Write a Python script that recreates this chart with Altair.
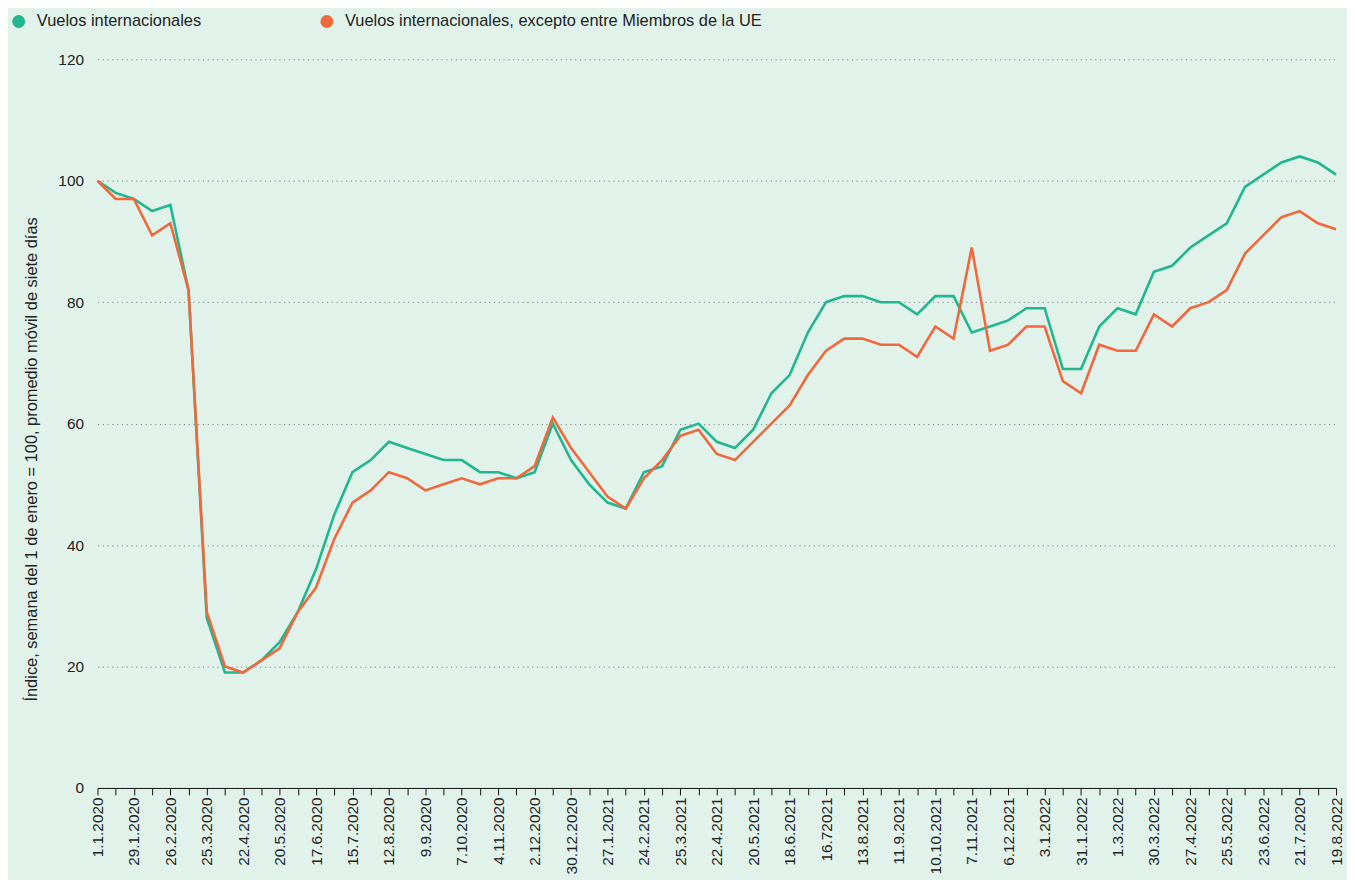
import altair as alt
import pandas as pd

series_names = ["Vuelos internacionales", "Vuelos internacionales, excepto entre Miembros de la UE"]
series_colors = ["#20B68F", "#F0683C"]

tick_labels = [
    "1.1.2020", "29.1.2020", "26.2.2020", "25.3.2020", "22.4.2020", "20.5.2020",
    "17.6.2020", "15.7.2020", "12.8.2020", "9.9.2020", "7.10.2020", "4.11.2020",
    "2.12.2020", "30.12.2020", "27.1.2021", "24.2.2021", "25.3.2021", "22.4.2021",
    "20.5.2021", "18.6.2021", "16.72021", "13.8.2021", "11.9.2021", "10.10.2021",
    "7.11.2021", "6.12.2021", "3.1.2022", "31.1.2022", "1.3.2022", "30.3.2022",
    "27.4.2022", "25.5.2022", "23.6.2022", "21.7.2020", "19.8.2022",
]

intl = [
    100, 98, 97, 95, 96, 82, 28, 19, 19, 21, 24, 29, 36, 45, 52, 54, 57, 56, 55, 54,
    54, 52, 52, 51, 52, 60, 54, 50, 47, 46, 52, 53, 59, 60, 57, 56, 59, 65, 68, 75,
    80, 81, 81, 80, 80, 78, 81, 81, 75, 76, 77, 79, 79, 69, 69, 76, 79, 78, 85, 86,
    89, 91, 93, 99, 101, 103, 104, 103, 101,
]
intl_ex_eu = [
    100, 97, 97, 91, 93, 82, 29, 20, 19, 21, 23, 29, 33, 41, 47, 49, 52, 51, 49, 50,
    51, 50, 51, 51, 53, 61, 56, 52, 48, 46, 51, 54, 58, 59, 55, 54, 57, 60, 63, 68,
    72, 74, 74, 73, 73, 71, 76, 74, 89, 72, 73, 76, 76, 67, 65, 73, 72, 72, 78, 76,
    79, 80, 82, 88, 91, 94, 95, 93, 92,
]

rows = []
for i, v in enumerate(intl):
    rows.append({"i": i, "serie": series_names[0], "valor": v})
for i, v in enumerate(intl_ex_eu):
    rows.append({"i": i, "serie": series_names[1], "valor": v})
df = pd.DataFrame(rows)

n = len(intl)
label_array = "[" + ",".join("'" + s + "'" for s in tick_labels) + "]"
label_expr = f"datum.value % 2 == 0 ? {label_array}[datum.value / 2] : ''"

x_enc = alt.X(
    "i:Q",
    scale=alt.Scale(domain=[0, n - 1], nice=False, zero=False),
    axis=alt.Axis(
        values=list(range(n)),
        labelExpr=label_expr,
        title=None,
        grid=False,
        labelAngle=270,
        labelFontSize=15.5,
        labelColor="#222222",
        labelOverlap=False,
        labelFlush=False,
        labelPadding=2,
        tickSize=7,
        tickColor="#111111",
        tickWidth=1,
        domainColor="#111111",
        domainWidth=1,
    ),
)
y_enc = alt.Y(
    "valor:Q",
    scale=alt.Scale(domain=[0, 120], nice=False),
    axis=alt.Axis(
        values=[0, 20, 40, 60, 80, 100, 120],
        title="Índice, semana del 1 de enero = 100, promedio móvil de siete días",
        titleFontSize=16.5,
        titleFontWeight="normal",
        titleColor="#222222",
        titleX=-66,
        titleY=402,
        titleAlign="center",
        titleBaseline="middle",
        titleAngle=270,
        labelFontSize=15.5,
        labelColor="#222222",
        labelPadding=14,
        ticks=False,
        domain=False,
        grid=True,
        gridColor="#7d7d7d",
        gridDash=[1.2, 3.6],
        gridWidth=1,
    ),
)
color_scale = alt.Scale(domain=series_names, range=series_colors)

lines = alt.Chart(df).mark_line(strokeWidth=2.6).encode(
    x=x_enc,
    y=y_enc,
    color=alt.Color(
        "serie:N",
        scale=color_scale,
        legend=alt.Legend(
            orient="none",
            legendX=-87.5,
            legendY=-46.5,
            direction="horizontal",
            title=None,
            symbolType="circle",
            symbolSize=42,
            symbolStrokeWidth=6.5,
            labelFontSize=16.5,
            labelColor="#222222",
            labelLimit=1000,
            labelOffset=10,
            columnPadding=110,
            padding=0,
        ),
    ),
)

chart = (
    lines
    .properties(
        width=1246,
        height=733,
        padding={"left": 90, "top": 49, "right": 11, "bottom": 90},
        autosize=alt.AutoSizeParams(type="none"),
        background="#E1F2EB",
    )
    .configure(font="Liberation Sans")
    .configure_view(stroke=None)
)

chart.save("out.html", embed_options={"renderer": "svg", "actions": False})
